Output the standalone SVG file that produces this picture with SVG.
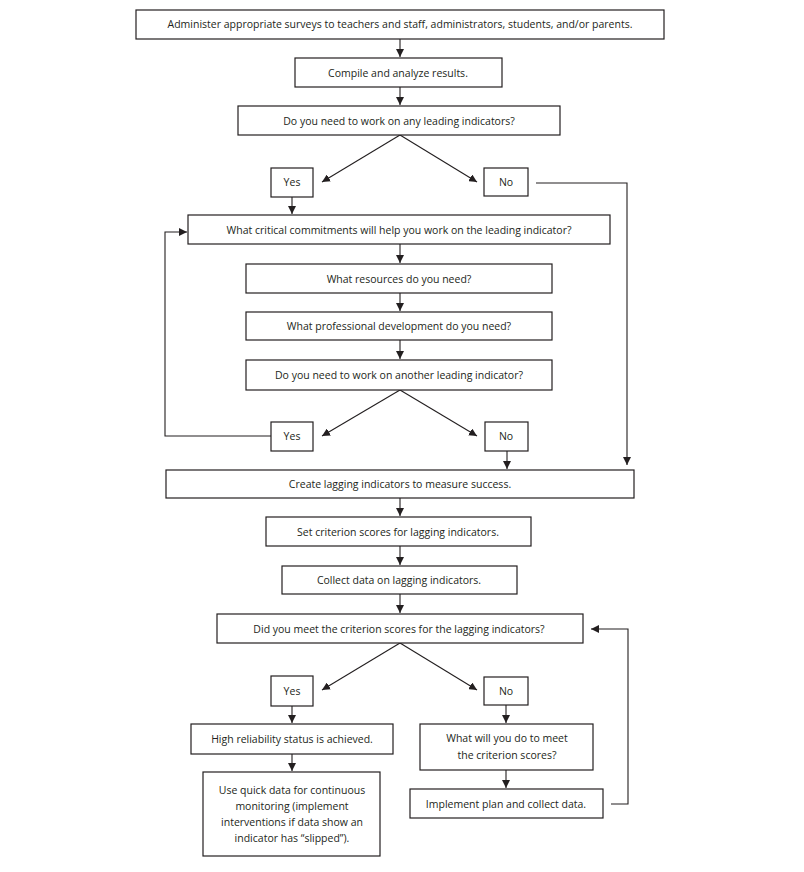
<svg xmlns="http://www.w3.org/2000/svg" width="804" height="872" viewBox="0 0 804 872">
<style>
rect{fill:#fff;stroke:#231f20;stroke-width:1.2}
text{font-family:"Open Sans","Noto Sans",sans-serif;font-size:10.5px;fill:#231f20;text-anchor:middle}
.c line,.c polyline{stroke:#231f20;stroke-width:1.1;fill:none}
</style>
<defs><marker id="a" viewBox="0 0 10 10" refX="10" refY="5" markerWidth="8" markerHeight="8" markerUnits="userSpaceOnUse" orient="auto"><path d="M0,0L10,5L0,10z" fill="#231f20"/></marker></defs>
<rect x="0" y="0" width="804" height="872" style="fill:#fff;stroke:none"/>
<g class="c" marker-end="url(#a)">
<line x1="400" y1="39" x2="400" y2="57"/>
<line x1="400" y1="87" x2="400" y2="105"/>
<line x1="400" y1="135" x2="322" y2="182"/>
<line x1="400" y1="135" x2="477" y2="182"/>
<line x1="292" y1="197" x2="292" y2="214"/>
<polyline points="536,183 627,183 627,465"/>
<line x1="400" y1="244" x2="400" y2="263"/>
<line x1="400" y1="293" x2="400" y2="311"/>
<line x1="400" y1="340" x2="400" y2="359"/>
<line x1="400" y1="390" x2="322" y2="436"/>
<line x1="400" y1="390" x2="477" y2="436"/>
<polyline points="271,436 165,436 165,232 187,232"/>
<line x1="507" y1="451" x2="507" y2="469"/>
<line x1="400" y1="498" x2="400" y2="516"/>
<line x1="400" y1="546" x2="400" y2="565"/>
<line x1="400" y1="594" x2="400" y2="613"/>
<line x1="400" y1="643" x2="322" y2="690"/>
<line x1="400" y1="643" x2="477" y2="690"/>
<line x1="292" y1="706" x2="292" y2="723"/>
<line x1="506" y1="705" x2="506" y2="723"/>
<line x1="292" y1="754" x2="292" y2="771"/>
<line x1="506" y1="770" x2="506" y2="788"/>
<polyline points="611,804 628,804 628,629 591,629"/>
</g>
<g id="n1"><rect x="136" y="10" width="528" height="29"/><text x="400" y="28">Administer appropriate surveys to teachers and staff, administrators, students, and/or parents.</text></g>
<g id="n2"><rect x="295" y="58" width="207" height="29"/><text x="398" y="77">Compile and analyze results.</text></g>
<g id="n3"><rect x="238" y="106" width="322" height="29"/><text x="399" y="125">Do you need to work on any leading indicators?</text></g>
<g id="y1"><rect x="271" y="168" width="42" height="29"/><text x="292" y="186">Yes</text></g>
<g id="no1"><rect x="484" y="168" width="44" height="28"/><text x="506" y="186">No</text></g>
<g id="n4"><rect x="188" y="215" width="422" height="29"/><text x="399" y="234">What critical commitments will help you work on the leading indicator?</text></g>
<g id="n5"><rect x="246" y="264" width="306" height="29"/><text x="399" y="283">What resources do you need?</text></g>
<g id="n6"><rect x="246" y="312" width="306" height="28"/><text x="399" y="330">What professional development do you need?</text></g>
<g id="n7"><rect x="246" y="360" width="306" height="30"/><text x="399" y="379">Do you need to work on another leading indicator?</text></g>
<g id="y2"><rect x="271" y="422" width="42" height="29"/><text x="292" y="440">Yes</text></g>
<g id="no2"><rect x="485" y="422" width="43" height="29"/><text x="506" y="440">No</text></g>
<g id="n8"><rect x="166" y="470" width="468" height="28"/><text x="400" y="488">Create lagging indicators to measure success.</text></g>
<g id="n9"><rect x="266" y="517" width="265" height="29"/><text x="398" y="536">Set criterion scores for lagging indicators.</text></g>
<g id="n10"><rect x="282" y="566" width="235" height="28"/><text x="399" y="584">Collect data on lagging indicators.</text></g>
<g id="n11"><rect x="217" y="614" width="366" height="29"/><text x="399" y="633">Did you meet the criterion scores for the lagging indicators?</text></g>
<g id="y3"><rect x="271" y="676" width="42" height="30"/><text x="292" y="695">Yes</text></g>
<g id="no3"><rect x="484" y="677" width="44" height="28"/><text x="506" y="695">No</text></g>
<g id="n12"><rect x="191" y="724" width="202" height="30"/><text x="292" y="743">High reliability status is achieved.</text></g>
<g id="n13"><rect x="203" y="772" width="177" height="84"/><text x="292" y="794">Use quick data for continuous</text><text x="292" y="810">monitoring (implement</text><text x="292" y="826">interventions if data show an</text><text x="292" y="842">indicator has “slipped”).</text></g>
<g id="n14"><rect x="420" y="724" width="173" height="46"/><text x="507" y="742">What will you do to meet</text><text x="507" y="759">the criterion scores?</text></g>
<g id="n15"><rect x="410" y="789" width="193" height="29"/><text x="506" y="808">Implement plan and collect data.</text></g>
</svg>
